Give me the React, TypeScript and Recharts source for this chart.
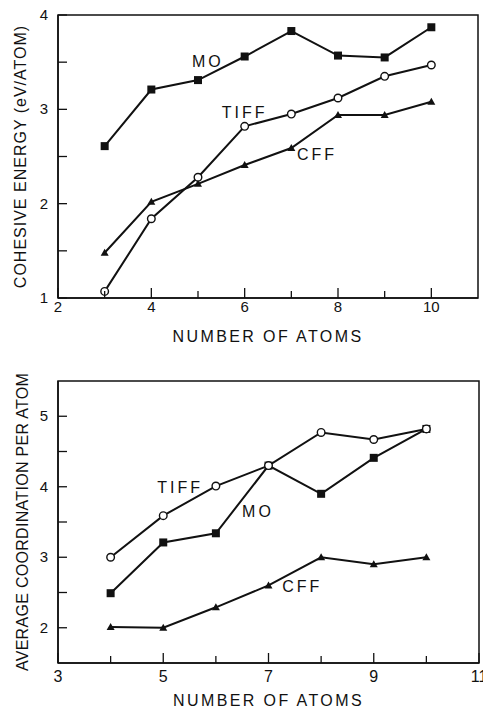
import React from 'react';
import { LineChart, Line, XAxis, YAxis, ReferenceArea, ReferenceDot } from 'recharts';

// top panel: cohesive energy vs cluster size
const topAtoms = [3, 4, 5, 6, 7, 8, 9, 10];
const topMO = [2.61, 3.21, 3.31, 3.56, 3.83, 3.57, 3.55, 3.87];
const topTIFF = [1.07, 1.84, 2.28, 2.82, 2.95, 3.12, 3.35, 3.47];
const topCFF = [1.48, 2.02, 2.21, 2.41, 2.59, 2.94, 2.94, 3.08];
const topXTicks = [2, 3, 4, 5, 6, 7, 8, 9, 10];
const topXLabels = [2, 4, 6, 8, 10];
const topYTicks = [1, 1.5, 2, 2.5, 3, 3.5, 4];
const topYLabels = [1, 2, 3, 4];

// bottom panel: average coordination
const botAtoms = [4, 5, 6, 7, 8, 9, 10];
const botTIFF = [3.0, 3.59, 4.01, 4.3, 4.77, 4.67, 4.82];
const botMO = [2.49, 3.21, 3.34, 4.3, 3.9, 4.41, 4.82];
const botCFF = [2.01, 2.0, 2.29, 2.6, 3.0, 2.9, 3.0];
const botXTicks = [3, 4, 5, 6, 7, 8, 9, 10, 11];
const botXLabels = [3, 5, 7, 9, 11];
const botYTicks = [2, 2.5, 3, 3.5, 4, 4.5, 5];
const botYLabels = [2, 3, 4, 5];

const topNotes = [
  { text: 'MO', x: 5.21, y: 3.51 },
  { text: 'TIFF', x: 6.0, y: 2.97 },
  { text: 'CFF', x: 7.55, y: 2.53 },
];
const botNotes = [
  { text: 'TIFF', x: 5.32, y: 4.0 },
  { text: 'MO', x: 6.8, y: 3.66 },
  { text: 'CFF', x: 7.64, y: 2.59 },
];

const INK = '#111';
const FONT = '"Liberation Sans", Arial, Helvetica, sans-serif';

const topRows = topAtoms.map((n, i) => ({ n, mo: topMO[i], tiff: topTIFF[i], cff: topCFF[i] }));
const botRows = botAtoms.map((n, i) => ({ n, mo: botMO[i], tiff: botTIFF[i], cff: botCFF[i] }));

const SquareDot = (p: any) =>
  p.cx == null ? <g key={p.key} /> : <rect key={p.key} x={p.cx - 4} y={p.cy - 4} width={8} height={8} fill={INK} />;
const CircleDot = (p: any) =>
  p.cx == null ? <g key={p.key} /> : <circle key={p.key} cx={p.cx} cy={p.cy} r={3.8} fill="#fff" stroke={INK} strokeWidth={1.4} />;
const TriDot = (p: any) =>
  p.cx == null ? (
    <g key={p.key} />
  ) : (
    <path key={p.key} d={`M${p.cx},${p.cy - 4}L${p.cx + 4},${p.cy + 3}L${p.cx - 4},${p.cy + 3}Z`} fill={INK} />
  );

const xTick = (labels: number[], fontSize: number, dy: number) => (p: any) => {
  const v = p.payload.value;
  const major = labels.includes(v);
  return (
    <g>
      <line x1={p.x} y1={p.y} x2={p.x} y2={p.y - (major ? 10 : 7)} stroke={INK} strokeWidth={1.3} />
      {major && (
        <text x={p.x} y={p.y + dy} textAnchor="middle" fontSize={fontSize} fontFamily={FONT} fill={INK}>
          {v}
        </text>
      )}
    </g>
  );
};

const yTick = (labels: number[]) => (p: any) => {
  const v = p.payload.value;
  const major = labels.includes(v);
  return (
    <g>
      <line x1={p.x} y1={p.y} x2={p.x + 9} y2={p.y} stroke={INK} strokeWidth={1.3} />
      {major && (
        <text x={p.x - 10} y={p.y + 5} textAnchor="end" fontSize={15} fontFamily={FONT} fill={INK}>
          {v}
        </text>
      )}
    </g>
  );
};

const noteLabel = (text: string) => (props: any) => {
  const vb = props.viewBox || {};
  const cx = vb.cx ?? vb.x;
  const cy = vb.cy ?? vb.y;
  return (
    <text x={cx} y={cy + 6} textAnchor="middle" fontSize={16} fontFamily={FONT} letterSpacing={3} fill={INK}>
      {text}
    </text>
  );
};

const axisTitle = { fontSize: 16, fontFamily: FONT, fill: INK };

export default function App() {
  return (
    <div style={{ position: 'absolute', left: 0, top: 0, width: 483, height: 709, background: '#fff' }}>
      <LineChart width={483} height={345} data={topRows} margin={{ top: 15, right: 5, left: 0, bottom: 0 }}>
        <XAxis
          type="number"
          dataKey="n"
          domain={[2, 11]}
          ticks={topXTicks}
          interval={0}
          tickSize={0}
          tickMargin={0}
          height={47}
          axisLine={{ stroke: INK, strokeWidth: 1.5 }}
          tickLine={false}
          tick={xTick(topXLabels, 15, 14)}
          label={{ value: 'NUMBER OF ATOMS', position: 'insideBottom', offset: 3, style: { ...axisTitle, letterSpacing: 2.4 } }}
        />
        <YAxis
          type="number"
          domain={[1, 4]}
          ticks={topYTicks}
          interval={0}
          tickSize={0}
          tickMargin={0}
          width={58}
          axisLine={{ stroke: INK, strokeWidth: 1.5 }}
          tickLine={false}
          tick={yTick(topYLabels)}
          label={{
            value: 'COHESIVE ENERGY (eV/ATOM)',
            angle: -90,
            position: 'insideLeft',
            offset: 20,
            style: { ...axisTitle, letterSpacing: 1, textAnchor: 'middle' },
          }}
        />
        <ReferenceArea x1={2} x2={11} y1={1} y2={4} fill="none" fillOpacity={0} stroke={INK} strokeWidth={1.5} />
        <Line dataKey="mo" stroke={INK} strokeWidth={2} dot={SquareDot} isAnimationActive={false} />
        <Line dataKey="cff" stroke={INK} strokeWidth={2} dot={TriDot} isAnimationActive={false} />
        <Line dataKey="tiff" stroke={INK} strokeWidth={2} dot={CircleDot} isAnimationActive={false} />
        {topNotes.map((a) => (
          <ReferenceDot key={a.text} x={a.x} y={a.y} r={0} fill="none" stroke="none" label={noteLabel(a.text)} />
        ))}
      </LineChart>
      <LineChart width={483} height={364} data={botRows} margin={{ top: 36, right: 4, left: 0, bottom: 0 }}>
        <XAxis
          type="number"
          dataKey="n"
          domain={[3, 11]}
          ticks={botXTicks}
          interval={0}
          tickSize={0}
          tickMargin={0}
          height={46}
          axisLine={{ stroke: INK, strokeWidth: 1.5 }}
          tickLine={false}
          tick={xTick(botXLabels, 16, 19)}
          label={{ value: 'NUMBER OF ATOMS', position: 'insideBottom', offset: 3, style: { ...axisTitle, letterSpacing: 2.4 } }}
        />
        <YAxis
          type="number"
          domain={[1.5, 5.5]}
          ticks={botYTicks}
          interval={0}
          tickSize={0}
          tickMargin={0}
          width={58}
          axisLine={{ stroke: INK, strokeWidth: 1.5 }}
          tickLine={false}
          tick={yTick(botYLabels)}
          label={{
            value: 'AVERAGE COORDINATION PER ATOM',
            angle: -90,
            position: 'insideLeft',
            offset: 22,
            style: { ...axisTitle, letterSpacing: 0.3, textAnchor: 'middle' },
          }}
        />
        <ReferenceArea x1={3} x2={11} y1={1.5} y2={5.5} fill="none" fillOpacity={0} stroke={INK} strokeWidth={1.5} />
        <Line dataKey="mo" stroke={INK} strokeWidth={2} dot={SquareDot} isAnimationActive={false} />
        <Line dataKey="cff" stroke={INK} strokeWidth={2} dot={TriDot} isAnimationActive={false} />
        <Line dataKey="tiff" stroke={INK} strokeWidth={2} dot={CircleDot} isAnimationActive={false} />
        {botNotes.map((a) => (
          <ReferenceDot key={a.text} x={a.x} y={a.y} r={0} fill="none" stroke="none" label={noteLabel(a.text)} />
        ))}
      </LineChart>
    </div>
  );
}
